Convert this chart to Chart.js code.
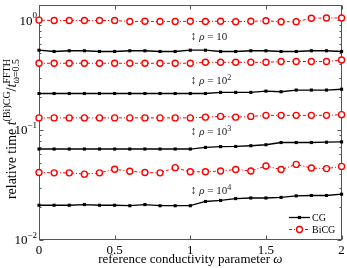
<!DOCTYPE html>
<html><head><meta charset="utf-8">
<script src="https://cdn.jsdelivr.net/npm/chart.js@4/dist/chart.umd.min.js"></script>
<style>html,body{margin:0;padding:0;background:#fff}#w{width:347px;height:268px;position:relative}</style>
</head><body><div id="w"><canvas id="c"></canvas></div>
<script>
const omega = [0,0.1,0.2,0.3,0.4,0.5,0.6,0.7,0.8,0.9,1.0,1.1,1.2,1.3,1.4,1.5,1.6,1.7,1.8,1.9,2.0];
const bicg1e1 = [1.0,0.99,0.99,0.99,0.99,0.99,0.97,0.975,0.97,0.97,0.975,0.97,0.975,0.965,0.975,0.985,0.965,0.965,1.04,1.045,1.045];
const cg1e1   = [0.532,0.518,0.526,0.526,0.518,0.518,0.526,0.526,0.518,0.518,0.532,0.532,0.518,0.518,0.526,0.526,0.518,0.518,0.526,0.526,0.518];
const bicg1e2 = [0.405,0.405,0.405,0.405,0.405,0.405,0.405,0.405,0.405,0.405,0.405,0.413,0.413,0.413,0.413,0.413,0.42,0.42,0.42,0.42,0.433];
const cg1e2   = [0.215,0.215,0.215,0.215,0.215,0.215,0.215,0.215,0.215,0.215,0.215,0.215,0.22,0.22,0.22,0.226,0.223,0.231,0.231,0.231,0.235];
const bicg1e3 = [0.129,0.129,0.129,0.129,0.129,0.129,0.129,0.129,0.129,0.129,0.129,0.131,0.133,0.131,0.133,0.136,0.136,0.136,0.136,0.136,0.138];
const cg1e3   = [0.0672,0.0672,0.0672,0.0672,0.0672,0.0672,0.0672,0.0672,0.0672,0.0672,0.0672,0.0695,0.0706,0.0709,0.072,0.0735,0.077,0.077,0.077,0.0775,0.078];
const bicg1e4 = [0.0411,0.0408,0.0408,0.0397,0.0408,0.044,0.0422,0.0411,0.0408,0.0455,0.0417,0.0417,0.0424,0.0438,0.0424,0.0471,0.0437,0.0487,0.0451,0.0446,0.0467];
const cg1e4   = [0.0207,0.0207,0.0207,0.021,0.0207,0.0207,0.0205,0.021,0.0205,0.0205,0.0205,0.0224,0.0229,0.0238,0.0241,0.0241,0.0244,0.0252,0.0254,0.0254,0.0261];

const xTickValues = [0,0.5,1,1.5,2];
const xTickLabels = ['0','0.5','1','1.5','2'];
const yTickValues = [0.01,0.1,1];
const yTickExponents = ['−2','−1','0'];
const rhoExponents = ['', '2', '3', '4'];
const rhoAnchorY = [0.72, 0.285, 0.099, 0.0286];
const rhoAnchorX = 1.02;
const legendNames = ['CG','BiCG'];

const SERIF = '"Liberation Serif","DejaVu Serif",serif';
const RED = '#ff0000';

function pts(arr){ return arr.map((v,i)=>({x:omega[i], y:v})); }
function cgSet(arr){ return {label:'CG', data:pts(arr), borderColor:'#000', backgroundColor:'#000', borderWidth:1.3,
  pointStyle:'rect', pointRadius:2.2, pointBorderWidth:0, clip:false, tension:0}; }
function bicgSet(arr){ return {label:'BiCG', data:pts(arr), borderColor:RED, backgroundColor:'#fff', borderWidth:1,
  borderDash:[3,2,1,2], pointStyle:'circle', pointRadius:3, pointBorderWidth:1.4, pointBorderColor:RED, pointBackgroundColor:'#fff', clip:false, tension:0}; }

function drawRich(ctx, segs, x, y){
  const widths = segs.map(s=>{ ctx.font=(s.italic?'italic ':'')+s.size+'px '+SERIF; return ctx.measureText(s.t).width; });
  let total=0;
  for(let i=0;i<segs.length;i++){ if(segs[i].stackWithPrev){ total += Math.max(0, widths[i]-widths[i-1]); } else total+=widths[i]; }
  let cx = x - total/2;
  let lastStart=cx, lastW=0;
  for(let i=0;i<segs.length;i++){
    const s=segs[i];
    ctx.font=(s.italic?'italic ':'')+s.size+'px '+SERIF;
    if(s.stackWithPrev){
      ctx.fillText(s.t, lastStart, y+(s.dy||0));
      cx = lastStart + Math.max(widths[i], lastW);
    } else {
      ctx.fillText(s.t, cx, y+(s.dy||0));
      lastStart=cx; lastW=widths[i];
      cx += widths[i];
    }
  }
}

const deco = {
  id:'deco',
  beforeDatasetsDraw(chart){
    const {ctx, chartArea:a, scales:{x,y}} = chart;
    ctx.save();
    ctx.strokeStyle='#555'; ctx.lineWidth=1;
    const L=Math.round(a.left)+0.5, R=Math.round(a.right)-0.5, T=Math.round(a.top)+0.5, B=Math.round(a.bottom)-0.5;
    ctx.strokeRect(L,T,R-L,B-T);
    ctx.beginPath();
    xTickValues.forEach(v=>{ const p=Math.round(x.getPixelForValue(v))+0.5; ctx.moveTo(p,B); ctx.lineTo(p,B-4); ctx.moveTo(p,T); ctx.lineTo(p,T+4); });
    yTickValues.forEach(v=>{ const p=Math.round(y.getPixelForValue(v))+0.5; ctx.moveTo(L,p); ctx.lineTo(L+4,p); ctx.moveTo(R,p); ctx.lineTo(R-4,p); });
    yTickValues.forEach(d=>{ for(let m=2;m<=9;m++){ const v=m*d; if(v>y.max) break; const p=Math.round(y.getPixelForValue(v))+0.5; ctx.moveTo(L,p); ctx.lineTo(L+2,p); ctx.moveTo(R,p); ctx.lineTo(R-2,p);} });
    ctx.stroke();
    ctx.fillStyle='#000'; ctx.textBaseline='middle'; ctx.textAlign='left';
    yTickValues.forEach((v,i)=>{
      const p=y.getPixelForValue(v);
      ctx.font='9px '+SERIF; const ew=ctx.measureText(yTickExponents[i]).width;
      ctx.font='13px '+SERIF; const bw=ctx.measureText('10').width;
      const right=a.left-2;
      ctx.fillText('10', right-ew-bw, p+1);
      ctx.font='9px '+SERIF; ctx.fillText(yTickExponents[i], right-ew, p-4);
    });
    ctx.restore();
  },
  afterDraw(chart){
    const {ctx, chartArea:a, scales:{x,y}} = chart;
    ctx.save();
    ctx.fillStyle='#000'; ctx.textBaseline='alphabetic'; ctx.textAlign='left';
    ctx.save();
    ctx.translate(16, 129); ctx.rotate(-Math.PI/2);
    drawRich(ctx, [
      {t:'relative time ', size:14},
      {t:'t', size:14, italic:true},
      {t:'(Bi)CG', size:10, dy:-6},
      {t:'/', size:14},
      {t:'t', size:14, italic:true},
      {t:'FFTH', size:10, dy:-6},
      {t:'ω=0.5', size:10, dy:3, stackWithPrev:true}
    ], 0, 0);
    ctx.restore();
    drawRich(ctx, [
      {t:'reference conductivity parameter ', size:13},
      {t:'ω', size:13, italic:true}
    ], (a.left+a.right)/2, 263);
    ctx.fillStyle='#222';
    rhoAnchorY.forEach((v,i)=>{
      const px=x.getPixelForValue(rhoAnchorX), py=y.getPixelForValue(v);
      ctx.font='12px '+SERIF;
      ctx.fillText('↕', px-3, py+4);
      const segs=[{t:'ρ', size:11, italic:true},{t:' = 10', size:11}];
      if(rhoExponents[i]) segs.push({t:rhoExponents[i], size:8, dy:-4});
      let cx=px+6;
      segs.forEach(s=>{ ctx.font=(s.italic?'italic ':'')+s.size+'px '+SERIF; ctx.fillText(s.t,cx,py+4+(s.dy||0)); cx+=ctx.measureText(s.t).width; });
    });
    const ds = chart.data.datasets;
    const rows=[{y:217.5, d:ds[0]},{y:229.5, d:ds[1]}];
    rows.forEach((r,i)=>{
      const d=r.d;
      ctx.save();
      ctx.strokeStyle=d.borderColor; ctx.lineWidth=d.borderWidth; ctx.setLineDash(d.borderDash||[]);
      ctx.beginPath(); ctx.moveTo(289,r.y); ctx.lineTo(310,r.y); ctx.stroke();
      ctx.setLineDash([]);
      if(d.pointStyle==='rect'){ ctx.fillStyle='#000'; ctx.fillRect(299.5-1.6,r.y-1.6,3.2,3.2); }
      else { ctx.fillStyle='#fff'; ctx.strokeStyle=RED; ctx.lineWidth=1.4; ctx.beginPath(); ctx.arc(299.5,r.y,3,0,Math.PI*2); ctx.fill(); ctx.stroke(); }
      ctx.restore();
      ctx.fillStyle='#000'; ctx.font='10px '+SERIF; ctx.textBaseline='middle';
      ctx.fillText(legendNames[i], 312, r.y+0.5);
      ctx.textBaseline='alphabetic';
    });
    ctx.restore();
  }
};

new Chart(document.getElementById('c'), {
  type:'line',
  data:{ datasets:[
    cgSet(cg1e1), bicgSet(bicg1e1), cgSet(cg1e2), bicgSet(bicg1e2),
    cgSet(cg1e3), bicgSet(bicg1e3), cgSet(cg1e4), bicgSet(bicg1e4)
  ]},
  options:{
    responsive:true, maintainAspectRatio:false, animation:false,
    layout:{padding:{left:0,right:2,top:2,bottom:0}},
    plugins:{legend:{display:false}, tooltip:{enabled:false}},
    scales:{
      x:{type:'linear', min:0, max:2, grid:{display:false, drawTicks:false}, border:{display:false},
        afterBuildTicks:s=>{ s.ticks = xTickValues.map(v=>({value:v})); },
        afterFit:s=>{ s.height=28; s.paddingRight=0; s.paddingLeft=0; },
        ticks:{padding:3, maxRotation:0, autoSkip:false, color:'#000', font:{family:SERIF, size:13},
          callback:(v,i)=>xTickLabels[i]}},
      y:{type:'logarithmic', min:0.01, max:1.36, bounds:'data', grid:{display:false, drawTicks:false}, border:{display:false},
        afterBuildTicks:s=>{ s.ticks = yTickValues.map(v=>({value:v})); },
        afterFit:s=>{ s.width=39; s.paddingTop=0; s.paddingBottom=0; },
        ticks:{display:false}}
    }
  },
  plugins:[deco]
});
</script>
</body></html>
